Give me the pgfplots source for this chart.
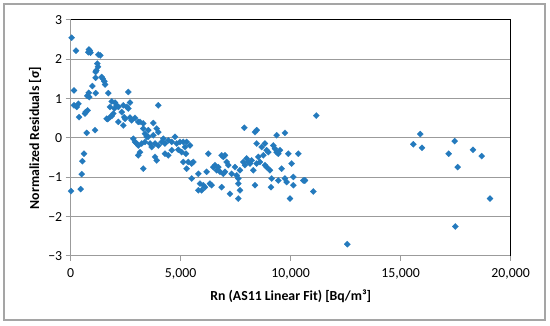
\documentclass[border=0pt]{standalone}
\usepackage{pgfplots}
\pgfplotsset{compat=1.18}
\usepackage{fontspec}
\setmainfont{Carlito}
\definecolor{mk}{RGB}{36,122,189}
\definecolor{gridc}{RGB}{155,155,155}
\definecolor{framec}{RGB}{165,165,165}
\begin{document}
\begin{tikzpicture}
\useasboundingbox (-70.7pt,-70pt) rectangle (479.3pt,256pt);
\draw[framec, line width=1.3pt] (-66.7pt,-64pt) rectangle (474.3pt,252pt);
\begin{axis}[
 at={(0pt,0pt)}, anchor=south west,
 scale only axis, width=440pt, height=236pt,
 xmin=0,xmax=20000,ymin=-3,ymax=3,
 xtick={0,5000,10000,15000,20000},
 xticklabels={0,{5,000},{10,000},{15,000},{20,000}},
 ytick={-3,-2,-1,0,1,2,3},
 yticklabels={−3,−2,−1,0,1,2,3},
 scaled x ticks=false,
 ymajorgrids, grid style={gridc, line width=1pt},
 axis line style={draw=none},
 tick align=outside, xtick pos=bottom, ytick pos=left,
 major tick length=5pt,
 tick style={gridc, line width=1pt},
 tick label style={font=\fontsize{13.8}{14}\selectfont, text=black},
 xticklabel style={yshift=-4pt},
 xlabel={Rn (AS11 Linear Fit) [Bq/m³]},
 ylabel={Normalized Residuals [σ]},
 label style={font=\bfseries\fontsize{13.8}{14}\selectfont},
 xlabel style={at={(axis description cs:0.5,-0.1725)}, anchor=center},
 ylabel style={at={(axis description cs:-0.0811,0.5)}, anchor=center},
 clip=false,
]
\addplot[only marks, mark=square*, mark size=2.2pt, mark options={rotate=45, fill=mk, draw=mk, line width=0.2pt}] table {
x y
45 2.55
240 2.22
800 2.18
830 2.25
870 2.22
900 2.17
1255 2.12
1345 2.10
1210 1.89
1240 1.81
1165 1.72
1135 1.68
1410 1.55
1455 1.51
1530 1.44
1560 1.36
1135 1.53
985 1.32
150 1.21
820 1.15
755 1.07
845 1.04
1135 1.14
1710 1.14
2620 1.17
150 0.83
350 0.87
275 0.79
380 0.53
650 0.62
770 0.70
680 0.66
1865 0.93
2015 0.90
2090 0.83
1985 0.75
2165 0.79
1785 0.79
2390 0.83
2545 0.79
2695 0.90
2620 0.75
2320 0.66
1935 0.62
1865 0.56
1680 0.48
2165 0.41
2470 0.49
2770 0.45
2925 0.51
3150 0.41
3755 0.38
3980 0.83
15 -1.35
455 -1.30
500 -0.92
530 -0.59
605 -0.40
725 0.13
1105 0.20
1635 0.49
1785 0.53
2390 0.32
2435 0.53
2695 0.52
3075 0.41
3300 0.37
2845 -0.02
2923 -0.10
3000 -0.14
3073 -0.19
3227 -0.14
3377 -0.10
3455 0.03
3377 0.11
3527 0.20
3300 0.24
3909 0.24
3982 0.15
3755 0.07
3527 0.03
3605 -0.14
3682 -0.23
3832 -0.14
3982 -0.19
4136 -0.10
4286 -0.14
4209 -0.02
4436 -0.06
4591 -0.10
4741 0.03
4818 -0.14
4968 -0.10
5118 -0.10
5195 -0.23
5045 -0.36
5118 -0.61
4286 -0.40
4436 -0.44
3909 -0.57
3832 -0.48
3300 -0.78
3073 -0.44
3150 -0.36
4591 -0.31
4891 -0.30
5271 -0.10
5422 -0.19
5240 -0.40
5347 -0.61
5498 -0.65
5574 -0.61
5271 -0.78
5498 -1.03
5801 -0.91
5877 -1.16
5953 -1.33
5801 -1.33
6028 -1.20
6104 -1.25
6256 -0.40
6180 -0.86
6331 -1.16
6407 -1.20
6483 -0.74
6559 -0.69
6634 -0.82
6710 -0.74
6786 -0.86
6862 -0.44
6937 -0.48
7013 -0.44
7089 -0.61
6862 -1.25
6937 -0.91
7013 -0.86
7165 -0.69
7240 -1.42
7316 -0.91
7468 -0.74
7543 -0.95
7619 -1.03
7619 -1.16
7695 -1.33
7619 -1.54
7695 -0.82
7846 -0.61
7922 -0.69
7998 -0.52
8074 -0.61
8149 -0.65
8225 -0.57
8301 -0.82
8377 -1.20
8452 -0.14
8528 -0.48
8604 -0.61
8452 -0.65
8680 -0.23
8831 -0.14
8907 -0.31
8983 -0.36
8755 -0.44
8831 -0.69
8907 -0.74
9058 -0.82
9134 -1.03
9104 -1.25
9210 -0.19
9285 -0.27
9361 -0.36
9437 -0.40
9513 -0.31
9589 -0.78
9740 -1.03
9816 -1.12
9437 -1.08
9892 -0.40
10043 -0.65
10119 -0.99
10119 -1.20
9967 -1.54
10346 -0.40
10574 -1.08
10649 -1.08
7892 0.26
8377 0.15
8452 0.20
9361 0.07
9740 0.13
11164 0.57
15890 0.10
15573 -0.16
15968 -0.25
17454 -0.08
17182 -0.40
17590 -0.74
18286 -0.30
18682 -0.46
19059 -1.54
17482 -2.25
12573 -2.70
10636 -1.08
11027 -1.36
};
\draw[gridc, line width=1pt] (rel axis cs:0,1) -- (rel axis cs:0,0) -- (rel axis cs:1,0);
\draw[black, line width=1pt] (rel axis cs:0,1) -- (rel axis cs:1,1) -- (rel axis cs:1,0);
\end{axis}
\end{tikzpicture}
\end{document}
